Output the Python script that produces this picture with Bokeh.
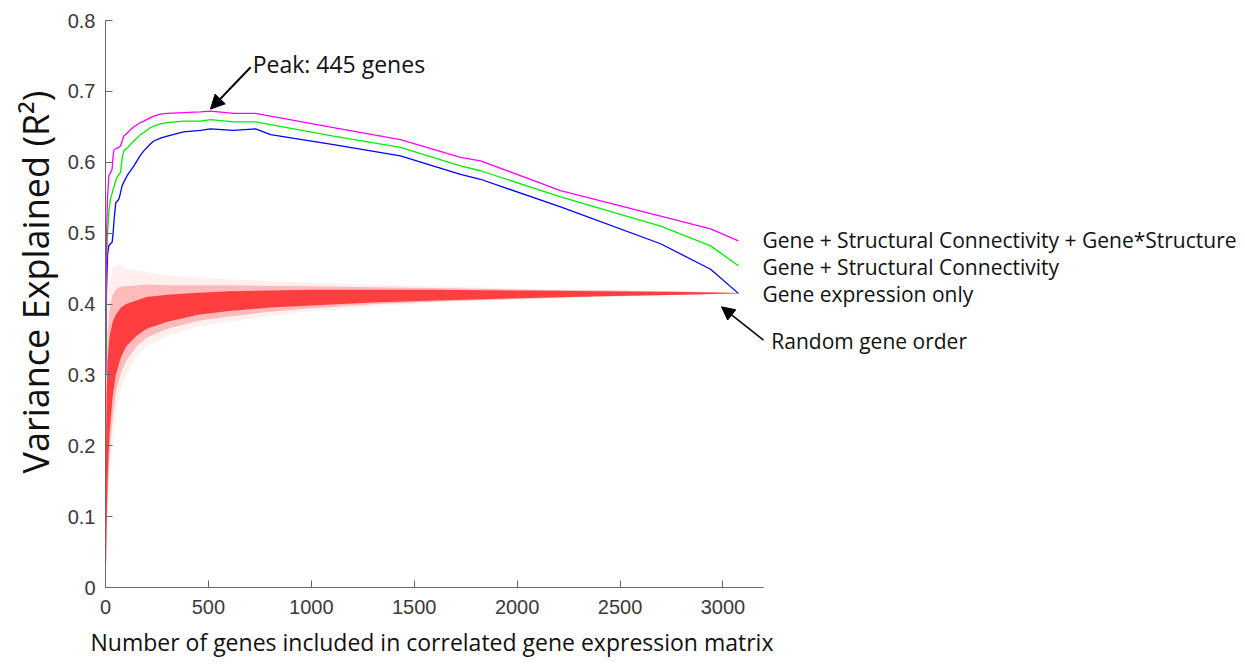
from bokeh.plotting import figure
from bokeh.models import Range1d, FixedTicker, Label, Arrow, NormalHead, Title
from bokeh.embed import file_html
from bokeh.resources import INLINE

# ---------------- data ----------------
x_lines = [1, 5, 10, 16, 24, 32, 37, 42, 50, 57, 65, 73, 81, 89, 105, 121, 138,
           170, 186, 219, 235, 267, 300, 379, 462, 510, 622, 729, 802, 1108,
           1433, 1725, 1822, 2211, 2697, 2940, 3075]
gene_sc_int = [0.36, 0.50, 0.55, 0.581, 0.585, 0.590, 0.609, 0.618, 0.619, 0.620,
               0.621, 0.623, 0.630, 0.637, 0.641, 0.646, 0.650, 0.656, 0.658,
               0.663, 0.665, 0.668, 0.669, 0.670, 0.671, 0.672, 0.669, 0.669,
               0.665, 0.649, 0.632, 0.607, 0.602, 0.560, 0.524, 0.506, 0.489]
gene_sc = [0.33, 0.46, 0.50, 0.53, 0.548, 0.556, 0.562, 0.566, 0.575, 0.579,
           0.583, 0.586, 0.605, 0.616, 0.620, 0.625, 0.630, 0.639, 0.642, 0.649,
           0.651, 0.654, 0.656, 0.658, 0.658, 0.660, 0.657, 0.657, 0.653, 0.637,
           0.621, 0.595, 0.588, 0.551, 0.510, 0.482, 0.454]
gene_only = [0.30, 0.42, 0.47, 0.482, 0.485, 0.487, 0.50, 0.52, 0.543, 0.545,
             0.548, 0.557, 0.567, 0.572, 0.581, 0.588, 0.595, 0.610, 0.616,
             0.626, 0.630, 0.634, 0.637, 0.643, 0.645, 0.647, 0.645, 0.647,
             0.639, 0.625, 0.609, 0.583, 0.576, 0.537, 0.485, 0.449, 0.415]

# random gene order: envelope of the many permutation curves
x_red = [1, 5, 10, 20, 35, 50, 75, 100, 150, 200, 300, 450, 600, 800, 1000,
         1300, 1600, 2000, 2400, 2800, 3075]
red_outer_hi = [0.30, 0.36, 0.40, 0.43, 0.45, 0.455, 0.455, 0.45, 0.447, 0.445,
                0.44, 0.437, 0.435, 0.432, 0.43, 0.427, 0.425, 0.422, 0.42,
                0.418, 0.416]
red_outer_lo = [0.0, 0.05, 0.10, 0.16, 0.21, 0.25, 0.28, 0.30, 0.325, 0.34,
                0.355, 0.368, 0.375, 0.383, 0.39, 0.397, 0.402, 0.406, 0.41,
                0.413, 0.414]
red_core_hi = [0.15, 0.27, 0.32, 0.355, 0.375, 0.385, 0.395, 0.40, 0.405, 0.41,
               0.413, 0.416, 0.418, 0.419, 0.42, 0.42, 0.42, 0.419, 0.418,
               0.417, 0.4155]
red_core_lo = [0.0, 0.08, 0.15, 0.22, 0.27, 0.30, 0.325, 0.34, 0.355, 0.365,
               0.375, 0.385, 0.39, 0.395, 0.398, 0.402, 0.405, 0.408, 0.411,
               0.413, 0.415]

x_ticks = [0, 500, 1000, 1500, 2000, 2500, 3000]
y_ticks = [0, 0.1, 0.2, 0.3, 0.4, 0.5, 0.6, 0.7, 0.8]
y_tick_labels = ["0", "0.1", "0.2", "0.3", "0.4", "0.5", "0.6", "0.7", "0.8"]
x_axis_end = 3197

series_labels = ["Gene + Structural Connectivity + Gene*Structure",
                 "Gene + Structural Connectivity",
                 "Gene expression only"]
random_label = "Random gene order"
peak_label = "Peak: 445 genes"
x_title = "Number of genes included in correlated gene expression matrix"
y_title = "Variance Explained (R\u00b2)"

# ---------------- figure ----------------
# the frame is widened to the right so that the annotations fit inside it;
# the x axis itself is bounded to the original data span.
px_per_gene = (763 - 105) / x_axis_end
frame_right_gene = (1240 - 105) / px_per_gene

p = figure(width=1245, height=664, output_backend="svg", toolbar_location=None,
           x_range=Range1d(0, frame_right_gene), y_range=Range1d(0, 0.8),
           min_border_left=105, min_border_right=5, min_border_top=20,
           min_border_bottom=75)
p.background_fill_color = "white"
p.border_fill_color = "white"
p.outline_line_color = None
p.grid.visible = False

# random band (layers)
mid_hi = [(a + b) / 2 for a, b in zip(red_outer_hi, red_core_hi)]
mid_lo = [(a + b) / 2 for a, b in zip(red_outer_lo, red_core_lo)]
p.varea(x=x_red, y1=red_outer_lo, y2=red_outer_hi, fill_color="#ff2020", fill_alpha=0.07)
p.varea(x=x_red, y1=mid_lo, y2=mid_hi, fill_color="#ff2020", fill_alpha=0.25)
p.varea(x=x_red, y1=red_core_lo, y2=red_core_hi, fill_color="#ff2020", fill_alpha=0.8)

p.line(x_lines, gene_only, line_color="#0000ff", line_width=1.3)
p.line(x_lines, gene_sc, line_color="#00ee00", line_width=1.3)
p.line(x_lines, gene_sc_int, line_color="#ff00ff", line_width=1.3)

# axes
for ax in (p.xaxis[0], p.yaxis[0]):
    ax.axis_line_color = "#666666"
    ax.axis_line_width = 1
    ax.major_tick_line_color = "#666666"
    ax.major_tick_in = 7
    ax.major_tick_out = 0
    ax.minor_tick_in = 0
    ax.minor_tick_out = 0
    ax.major_label_text_font = "Liberation Sans"
    ax.major_label_text_font_size = "20px"
    ax.major_label_text_color = "#3a3a3a"

p.xaxis.bounds = (0, x_axis_end)
p.xaxis.ticker = FixedTicker(ticks=x_ticks)
p.yaxis.ticker = FixedTicker(ticks=y_ticks)
p.yaxis.major_label_overrides = {v: s for v, s in zip(y_ticks, y_tick_labels)}
p.xaxis.major_label_standoff = 12
p.yaxis.major_label_standoff = 10

# axis titles as side-panel titles, so they can be placed freely
p.add_layout(Title(text=x_title, align="left", offset=-15, standoff=14,
                   text_font="Open Sans", text_font_size="23px",
                   text_font_style="normal", text_color="#111111"), "below")
p.add_layout(Title(text=y_title, align="left", offset=114, standoff=10,
                   text_font="Open Sans", text_font_size="36px",
                   text_font_style="normal", text_color="#111111"), "left")

# annotations
label_font = "Open Sans"
fs = "21px"
for lbl, py in zip(series_labels, [241, 268, 295]):
    p.add_layout(Label(x=3192, y=(589 - py) / 710, text=lbl, text_font=label_font,
                       text_font_size=fs, text_baseline="middle", text_color="#111111"))
p.add_layout(Label(x=3235, y=(589 - 342) / 710, text=random_label, text_font=label_font,
                   text_font_size=fs, text_baseline="middle", text_color="#111111"))
p.add_layout(Label(x=715, y=(589 - 65) / 710, text=peak_label, text_font=label_font,
                   text_font_size="23px", text_baseline="middle", text_color="#111111"))

p.add_layout(Arrow(x_start=705, y_start=0.734, x_end=510, y_end=0.675,
                   line_color="black", line_width=2,
                   end=NormalHead(size=14, fill_color="black", line_color="black")))
p.add_layout(Arrow(x_start=3197, y_start=0.349, x_end=2993, y_end=0.396,
                   line_color="black", line_width=1.5,
                   end=NormalHead(size=13, fill_color="black", line_color="black")))

open("out.html", "w").write(file_html(p, INLINE))
